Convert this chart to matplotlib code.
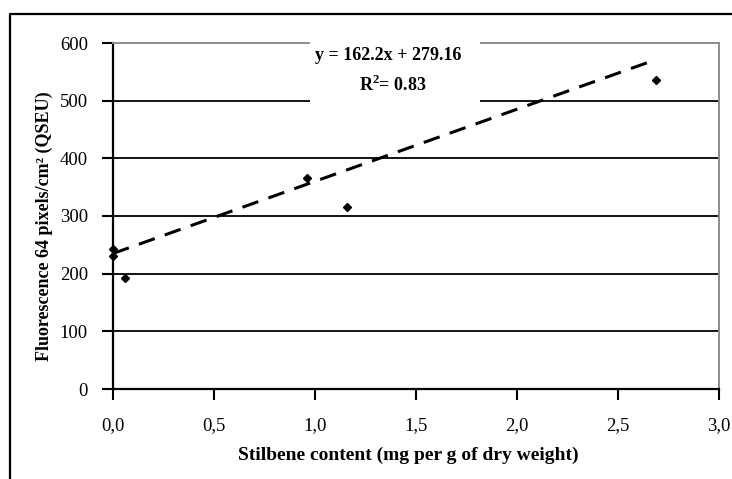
import matplotlib
matplotlib.use('Agg')
import matplotlib.pyplot as plt
from matplotlib.lines import Line2D
from matplotlib.patches import Rectangle
from matplotlib.ticker import FuncFormatter

plt.rcParams['font.family'] = ['Liberation Serif', 'DejaVu Serif']
plt.rcParams['mathtext.fontset'] = 'custom'
plt.rcParams['mathtext.rm'] = 'Liberation Serif:bold'
plt.rcParams['mathtext.bf'] = 'Liberation Serif:bold'

# data
stilbene = [0.0, 0.0, 0.06, 0.96, 1.16, 2.69]
fluorescence = [242, 230, 193, 366, 316, 536]
trend_x = [0.0, 2.67]
trend_y = [235, 569]
eq_text = 'y = 162.2x + 279.16'
r2_text = 'R$^{2}$= 0.83'
x_ticks = [0.0, 0.5, 1.0, 1.5, 2.0, 2.5, 3.0]
y_ticks = [0, 100, 200, 300, 400, 500, 600]

W, H = 732, 479
fig = plt.figure(figsize=(W / 100, H / 100), dpi=100)
ax = fig.add_axes([113 / W, 1 - 389 / H, (719 - 113) / W, (389 - 43) / H])

ax.set_xlim(0, 3)
ax.set_ylim(0, 600)
ax.set_xticks(x_ticks)
ax.set_yticks(y_ticks)
ax.xaxis.set_major_formatter(FuncFormatter(lambda v, p: ('%.1f' % v).replace('.', ',')))
ax.tick_params(direction='out', length=8, width=1.5, labelsize=13.5, pad=10)
ax.tick_params(axis='x', pad=12)

for v in y_ticks[1:-1]:
    ax.axhline(v, color='black', lw=1.3, zorder=1)

for s in ('left', 'bottom'):
    ax.spines[s].set_color('black')
    ax.spines[s].set_linewidth(1.6)
for s in ('top', 'right'):
    ax.spines[s].set_color('#8c8c8c')
    ax.spines[s].set_linewidth(1.4)

ax.plot(trend_x, trend_y, color='black', lw=2.2, dashes=(5.5, 3.5), zorder=3)
ax.plot(stilbene, fluorescence, 'D', color='black', markersize=4.5, zorder=4,
        clip_on=False)

# white box behind the equation
ax.add_patch(Rectangle((310 / W, 1 - 104 / H), 170 / W, 64 / H,
                       transform=fig.transFigure, facecolor='white',
                       edgecolor='none', zorder=5, clip_on=False))
fig.text(388 / W, 1 - 56 / H, eq_text, ha='center', va='center',
         fontsize=13, fontweight='bold', zorder=6)
fig.text(393 / W, 1 - 85 / H, r2_text, ha='center', va='center',
         fontsize=13, fontweight='bold', zorder=6)

fig.text(44 / W, 1 - 226 / H, 'Fluorescence 64 pixels/cm² (QSEU)',
         rotation=90, ha='center', va='center', fontsize=13, fontweight='bold')
fig.text(408 / W, 1 - 455 / H, 'Stilbene content (mg per g of dry weight)',
         ha='center', va='center', fontsize=14, fontweight='bold')

# outer frame (left and top edges visible)
fig.add_artist(Line2D([10 / W, 10 / W, 1.0], [0.0, 1 - 14 / H, 1 - 14 / H],
                      transform=fig.transFigure, color='black', lw=1.6))

fig.savefig('out.png', dpi=100)
